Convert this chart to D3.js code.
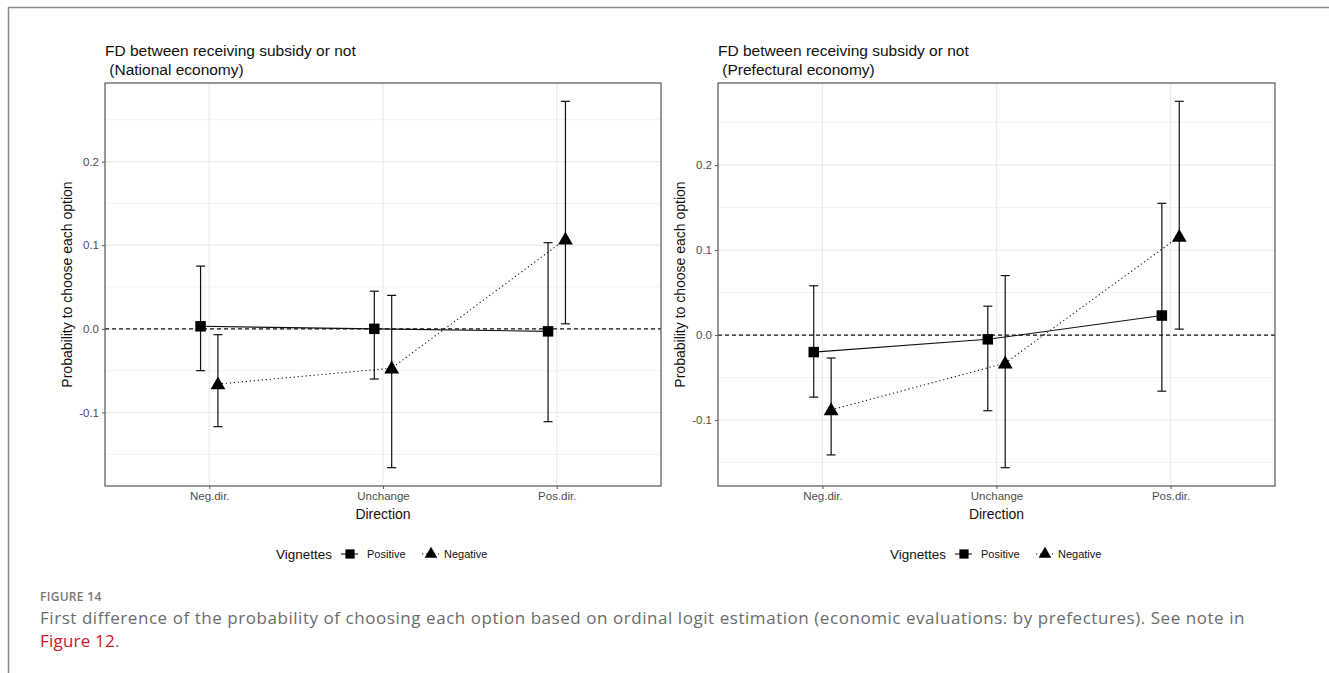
<!DOCTYPE html>
<html>
<head>
<meta charset="utf-8">
<script src="https://cdn.jsdelivr.net/npm/d3@7"></script>
<style>
  html, body { margin: 0; padding: 0; background: #fff; }
  svg { display: block; }
</style>
</head>
<body>
<svg id="chart" width="1329" height="673"></svg>
<script>
// ---------------- DATA ----------------
const categories = ["Neg.dir.", "Unchange", "Pos.dir."];
const yTickValues = [-0.1, 0.0, 0.1, 0.2];
const yMinorValues = [-0.15, -0.05, 0.05, 0.15, 0.25];
const panelTitles = [
  ["FD between receiving subsidy or not", " (National economy)"],
  ["FD between receiving subsidy or not", " (Prefectural economy)"]
];
const seriesNames = ["Positive", "Negative"];

// National economy
const natPosEst = [0.003, 0.000, -0.003];
const natPosLo  = [-0.050, -0.060, -0.111];
const natPosHi  = [0.075, 0.045, 0.103];
const natNegEst = [-0.066, -0.047, 0.107];
const natNegLo  = [-0.117, -0.166, 0.006];
const natNegHi  = [-0.007, 0.040, 0.272];

// Prefectural economy
const prefPosEst = [-0.020, -0.005, 0.023];
const prefPosLo  = [-0.073, -0.089, -0.066];
const prefPosHi  = [0.058, 0.034, 0.155];
const prefNegEst = [-0.088, -0.033, 0.116];
const prefNegLo  = [-0.141, -0.156, 0.007];
const prefNegHi  = [-0.027, 0.070, 0.275];

const axisTitleX = "Direction";
const axisTitleY = "Probability to choose each option";
const legendTitle = "Vignettes";
const captionLabel = "FIGURE 14";
const captionText = "First difference of the probability of choosing each option based on ordinal logit estimation (economic evaluations: by prefectures). See note in";
const captionLink = "Figure 12";

// ---------------- BUILD ----------------
function buildSeries(est, lo, hi) {
  return categories.map((c, i) => ({ cat: c, est: est[i], lo: lo[i], hi: hi[i] }));
}
const panels = [
  { titles: panelTitles[0], series: [buildSeries(natPosEst, natPosLo, natPosHi), buildSeries(natNegEst, natNegLo, natNegHi)],
    x0: 105, x1: 661, legendX: 276 },
  { titles: panelTitles[1], series: [buildSeries(prefPosEst, prefPosLo, prefPosHi), buildSeries(prefNegEst, prefNegLo, prefNegHi)],
    x0: 718, x1: 1275, legendX: 890 }
];

const svg = d3.select("#chart");
const FONT = "'Liberation Sans', Arial, sans-serif";
const panelTop = 83, panelBottom = 486;

// outer frame
svg.append("line").attr("x1", 8.5).attr("x2", 8.5).attr("y1", 7).attr("y2", 673)
  .attr("stroke", "#8a8a8a").attr("stroke-width", 1.5);
svg.append("line").attr("x1", 8).attr("x2", 1329).attr("y1", 7.5).attr("y2", 7.5)
  .attr("stroke", "#8a8a8a").attr("stroke-width", 1.5);

const fmt = v => d3.format(".1f")(v).replace("\u2212", "-");

panels.forEach(p => {
  const g = svg.append("g");
  const all = p.series.flat();
  const lo = d3.min(all, d => d.lo), hi = d3.max(all, d => d.hi);
  const pad = (hi - lo) * 0.05;
  const y = d3.scaleLinear().domain([lo - pad, hi + pad]).range([panelBottom, panelTop]);
  const x = d3.scalePoint().domain(categories).range([p.x0, p.x1]).padding(0.6);
  const dodge = x.step() * 0.05;
  const offs = [-dodge, dodge];

  // grid
  g.selectAll(".minor").data(yMinorValues.filter(v => y(v) > panelTop && y(v) < panelBottom)).enter()
    .append("line").attr("x1", p.x0).attr("x2", p.x1)
    .attr("y1", d => y(d)).attr("y2", d => y(d))
    .attr("stroke", "#f2f2f2").attr("stroke-width", 1);
  g.selectAll(".major").data(yTickValues).enter()
    .append("line").attr("x1", p.x0).attr("x2", p.x1)
    .attr("y1", d => y(d)).attr("y2", d => y(d))
    .attr("stroke", "#ebebeb").attr("stroke-width", 1.2);
  g.selectAll(".vgrid").data(categories).enter()
    .append("line").attr("x1", d => x(d)).attr("x2", d => x(d))
    .attr("y1", panelTop).attr("y2", panelBottom)
    .attr("stroke", "#ebebeb").attr("stroke-width", 1.2);

  // zero line
  g.append("line").attr("x1", p.x0).attr("x2", p.x1).attr("y1", y(0)).attr("y2", y(0))
    .attr("stroke", "#111").attr("stroke-width", 1.1).attr("stroke-dasharray", "4,3");

  // lines
  const dashes = [null, "1.2,2.8"];
  p.series.forEach((s, si) => {
    const line = d3.line().x(d => x(d.cat) + offs[si]).y(d => y(d.est));
    g.append("path").attr("d", line(s)).attr("fill", "none")
      .attr("stroke", "#111").attr("stroke-width", 1.1)
      .attr("stroke-dasharray", dashes[si]);
  });

  // error bars
  const capW = 4.5;
  p.series.forEach((s, si) => {
    const eb = g.append("g");
    s.forEach(d => {
      const cx = x(d.cat) + offs[si];
      eb.append("line").attr("x1", cx).attr("x2", cx).attr("y1", y(d.lo)).attr("y2", y(d.hi))
        .attr("stroke", "#111").attr("stroke-width", 1.2);
      [d.lo, d.hi].forEach(v => eb.append("line").attr("x1", cx - capW).attr("x2", cx + capW)
        .attr("y1", y(v)).attr("y2", y(v)).attr("stroke", "#111").attr("stroke-width", 1.2));
    });
  });

  // points
  const sq = d3.symbol().type(d3.symbolSquare).size(110);
  const tri = d3.symbol().type(d3.symbolTriangle).size(95);
  p.series.forEach((s, si) => {
    g.selectAll(null).data(s).enter().append("path")
      .attr("d", si === 0 ? sq : tri)
      .attr("transform", d => `translate(${x(d.cat) + offs[si]},${y(d.est) + (si === 1 ? 1 : 0)})`)
      .attr("fill", "#000");
  });

  // border
  g.append("rect").attr("x", p.x0).attr("y", panelTop).attr("width", p.x1 - p.x0).attr("height", panelBottom - panelTop)
    .attr("fill", "none").attr("stroke", "#555").attr("stroke-width", 1.2);

  // axes
  const yAxis = d3.axisLeft(y).tickValues(yTickValues).tickSize(3).tickPadding(3).tickFormat(fmt);
  const ya = g.append("g").attr("transform", `translate(${p.x0},0)`).call(yAxis);
  ya.select(".domain").remove();
  ya.selectAll("line").attr("stroke", "#555");
  ya.selectAll("text").attr("font-family", FONT).attr("font-size", 11.5).attr("fill", "#4d4d4d");

  const xAxis = d3.axisBottom(x).tickSize(3).tickPadding(3);
  const xa = g.append("g").attr("transform", `translate(0,${panelBottom})`).call(xAxis);
  xa.select(".domain").remove();
  xa.selectAll("line").attr("stroke", "#555");
  xa.selectAll("text").attr("font-family", FONT).attr("font-size", 11.5).attr("fill", "#4d4d4d");

  // axis titles
  g.append("text").attr("x", (p.x0 + p.x1) / 2).attr("y", 519).attr("text-anchor", "middle")
    .attr("font-family", FONT).attr("font-size", 14).attr("fill", "#111").text(axisTitleX);
  g.append("text").attr("transform", `translate(${p.x0 - 33},${(panelTop + panelBottom) / 2}) rotate(-90)`)
    .attr("text-anchor", "middle").attr("font-family", FONT).attr("font-size", 14).attr("fill", "#111").text(axisTitleY);

  // panel titles
  g.append("text").attr("x", p.x0).attr("y", 56).attr("font-family", FONT).attr("font-size", 15.5)
    .attr("fill", "#111").attr("xml:space", "preserve").style("white-space", "pre").text(p.titles[0]);
  g.append("text").attr("x", p.x0).attr("y", 75).attr("font-family", FONT).attr("font-size", 15.5)
    .attr("fill", "#111").attr("xml:space", "preserve").style("white-space", "pre").text(p.titles[1]);

  // legend
  const lg = g.append("g").attr("transform", `translate(${p.legendX},0)`);
  const ly = 554;
  lg.append("text").attr("x", 0).attr("y", ly + 5).attr("font-family", FONT).attr("font-size", 13.5)
    .attr("fill", "#111").text(legendTitle);
  const keyX = [74, 155];
  const textX = [91, 168];
  const legSq = d3.symbol().type(d3.symbolSquare).size(85);
  const legTri = d3.symbol().type(d3.symbolTriangle).size(70);
  seriesNames.forEach((name, si) => {
    lg.append("line").attr("x1", keyX[si] - 9).attr("x2", keyX[si] + 8).attr("y1", ly).attr("y2", ly)
      .attr("stroke", "#111").attr("stroke-width", 1.1).attr("stroke-dasharray", dashes[si]);
    lg.append("path").attr("d", si === 0 ? legSq : legTri)
      .attr("transform", `translate(${keyX[si]},${ly})`).attr("fill", "#000");
    lg.append("text").attr("x", textX[si]).attr("y", ly + 4).attr("font-family", FONT).attr("font-size", 11)
      .attr("fill", "#111").text(name);
  });
});

// caption
const CAP_FONT = "'Open Sans', 'Noto Sans', sans-serif";
svg.append("text").attr("x", 40).attr("y", 601).attr("font-family", CAP_FONT).attr("font-size", 12)
  .attr("font-weight", 600).attr("fill", "#777").attr("letter-spacing", 0.3).text(captionLabel);
svg.append("text").attr("x", 40).attr("y", 624).attr("font-family", CAP_FONT).attr("font-size", 17)
  .attr("fill", "#6b6b6b").attr("letter-spacing", 0.55).text(captionText);
svg.append("text").attr("x", 40).attr("y", 647).attr("font-family", CAP_FONT).attr("font-size", 17)
  .attr("fill", "#6b6b6b").attr("letter-spacing", 0.2)
  .call(t => { t.append("tspan").attr("fill", "#d5122a").text(captionLink); t.append("tspan").text("."); });
</script>
</body>
</html>
